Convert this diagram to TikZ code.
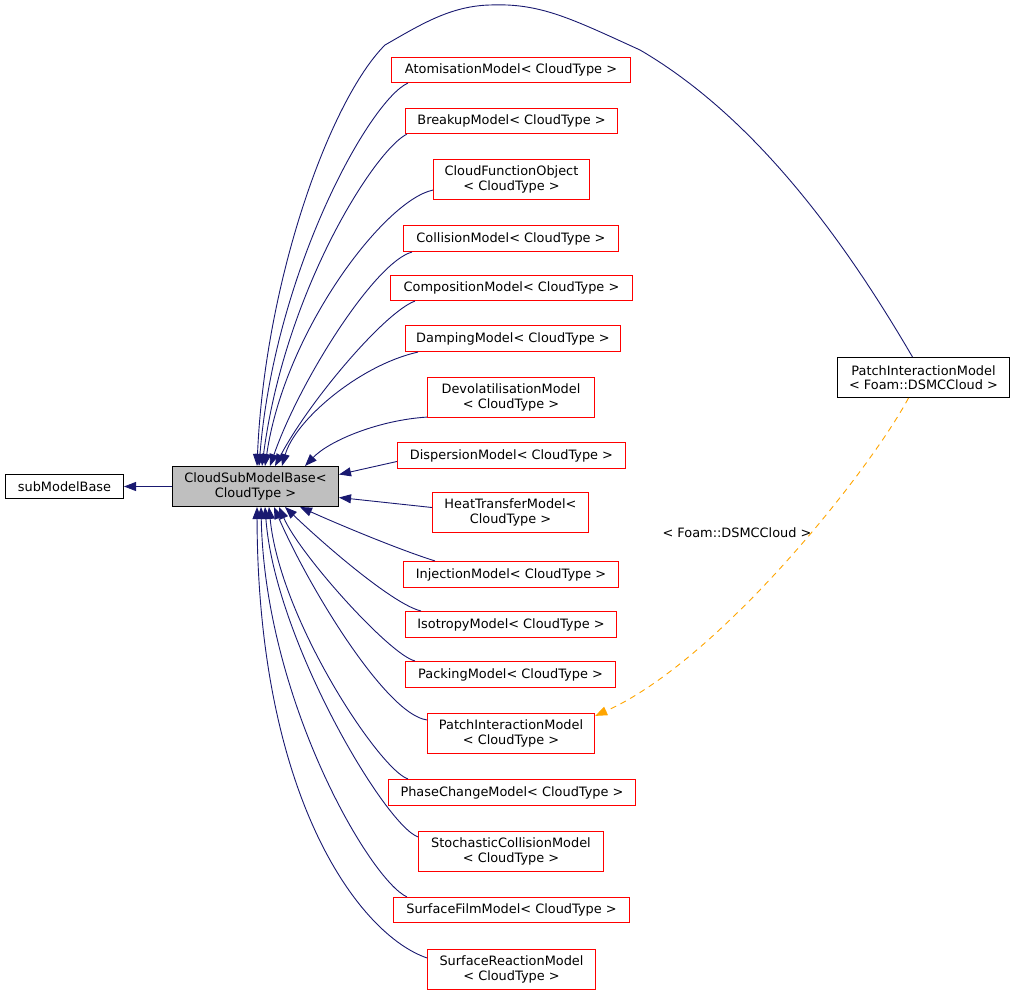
\documentclass[tikz,border=0pt]{standalone}
\usepackage{fontspec}
\setmainfont{DejaVu Sans}
\usetikzlibrary{arrows.meta}
\definecolor{edgeblue}{RGB}{25,25,112}
\definecolor{tmplorange}{RGB}{255,165,0}
\definecolor{basegray}{RGB}{191,191,191}
\definecolor{clsred}{RGB}{255,0,0}
\tikzset{
	box/.style={draw, line width=1pt, inner sep=0pt, align=center, font=\fontsize{12.9}{14.5}\selectfont},
	cls/.style={box, color=clsred, text=black, line width=1.2pt},
	basebox/.style={box, fill=basegray},
	edge/.style={draw=edgeblue, line width=0.9pt, -{Triangle[length=12pt,width=9pt]}},
	tmpledge/.style={draw=tmplorange, line width=0.9pt, dash pattern=on 6pt off 5pt, -{Triangle[length=12pt,width=9pt]}},
	lbl/.style={font=\fontsize{12.9}{14.5}\selectfont, inner sep=0pt}
}
\begin{document}
\begin{tikzpicture}[x=1pt, y=-1pt]
				\useasboundingbox (0,0) rectangle (1015,995);
				\node[box, minimum width=118pt, minimum height=24pt] (smb) at (64.5,486.5) {subModelBase};
				\node[basebox, minimum width=166pt, minimum height=40pt] (base) at (255.5,486.5) {CloudSubModelBase<\\CloudType >};
				\node[box, minimum width=172pt, minimum height=40pt] (dsmc) at (923.5,377.5) {PatchInteractionModel\\< Foam::DSMCCloud >};
				\node[cls, minimum width=239pt, minimum height=25pt] (atom) at (511,70) {AtomisationModel< CloudType >};
				\node[cls, minimum width=212pt, minimum height=25pt] (breakup) at (511.5,121) {BreakupModel< CloudType >};
				\node[cls, minimum width=156pt, minimum height=40pt] (cfo) at (511.5,179.5) {CloudFunctionObject\\< CloudType >};
				\node[cls, minimum width=215pt, minimum height=26pt] (collision) at (511,238.5) {CollisionModel< CloudType >};
				\node[cls, minimum width=242pt, minimum height=25pt] (composition) at (511.5,288) {CompositionModel< CloudType >};
				\node[cls, minimum width=215pt, minimum height=26pt] (damping) at (513,338.5) {DampingModel< CloudType >};
				\node[cls, minimum width=167pt, minimum height=40pt] (devol) at (511,397.5) {DevolatilisationModel\\< CloudType >};
				\node[cls, minimum width=228pt, minimum height=26pt] (dispersion) at (511.5,455.5) {DispersionModel< CloudType >};
				\node[cls, minimum width=156pt, minimum height=40pt] (heat) at (510.5,512.5) {HeatTransferModel<\\CloudType >};
				\node[cls, minimum width=215pt, minimum height=26pt] (injection) at (511,574.5) {InjectionModel< CloudType >};
				\node[cls, minimum width=211pt, minimum height=26pt] (isotropy) at (511,624.5) {IsotropyModel< CloudType >};
				\node[cls, minimum width=210pt, minimum height=26pt] (packing) at (510.5,674.5) {PackingModel< CloudType >};
				\node[cls, minimum width=167pt, minimum height=40pt] (patch) at (511,733.5) {PatchInteractionModel\\< CloudType >};
				\node[cls, minimum width=247pt, minimum height=26pt] (phase) at (512,792.5) {PhaseChangeModel< CloudType >};
				\node[cls, minimum width=185pt, minimum height=40pt] (stoch) at (511,851.5) {StochasticCollisionModel\\< CloudType >};
				\node[cls, minimum width=236pt, minimum height=25pt] (film) at (511.5,910) {SurfaceFilmModel< CloudType >};
				\node[cls, minimum width=168pt, minimum height=40pt] (reaction) at (511.5,969.5) {SurfaceReactionModel\\< CloudType >};
				\node[lbl] (tmpl) at (737,533) {< Foam::DSMCCloud >};
				% base class
				\draw[edge] (base) -- (smb);
				% children above the base
				\draw[edge] ([xshift=-11pt]dsmc.north) .. controls (850,250) and (760,120) .. (640,50)
					.. controls (570,18) and (540,3) .. (490,5)
					.. controls (450,6) and (420,25) .. (385,45)
					.. controls (330,100) and (265,280) .. ([xshift=1.5pt]base.north);
				\draw[edge] ([xshift=17pt]atom.south west) .. controls (370,100) and (275,270) .. ([xshift=3.5pt]base.north);
				\draw[edge] ([xshift=2pt]breakup.south west) .. controls (375,150) and (285,290) .. ([xshift=6.5pt]base.north);
				\draw[edge] ([yshift=10pt]cfo.south west) .. controls (385,200) and (285,330) .. ([xshift=9.5pt]base.north);
				\draw[edge] ([xshift=9pt]collision.south west) .. controls (375,262) and (300,380) .. ([xshift=14.5pt]base.north);
				\draw[edge] ([xshift=25pt]composition.south west) .. controls (385,312) and (310,400) .. ([xshift=19.5pt]base.north);
				\draw[edge] ([xshift=13pt]damping.south west) .. controls (360,365) and (295,420) .. ([xshift=26.5pt]base.north);
				\draw[edge] ([yshift=1pt]devol.south west) .. controls (380,420) and (330,440) .. ([xshift=49.5pt]base.north);
				\draw[edge] ([yshift=-6pt]dispersion.west) -- ([yshift=12pt]base.east);
				\draw[edge] ([yshift=5pt]heat.west) -- ([yshift=-11pt]base.east);
				% children below the base
				\draw[edge] ([xshift=32pt]injection.north west) .. controls (400,550) and (340,525) .. ([xshift=44.5pt]base.south);
				\draw[edge] ([xshift=16pt]isotropy.north west) .. controls (395,605) and (330,550) .. ([xshift=29.5pt]base.south);
				\draw[edge] ([xshift=10pt]packing.north west) .. controls (390,655) and (300,555) .. ([xshift=23.5pt]base.south);
				\draw[edge] ([yshift=-7pt]patch.north west) .. controls (387,715) and (310,590) .. ([xshift=18.5pt]base.south);
				\draw[edge] ([xshift=20pt]phase.north west) .. controls (380,770) and (280,620) .. ([xshift=13.5pt]base.south);
				\draw[edge] ([yshift=-6pt]stoch.north west) .. controls (385,825) and (275,640) .. ([xshift=9.5pt]base.south);
				\draw[edge] ([xshift=14pt]film.north west) .. controls (370,880) and (265,700) .. ([xshift=5.5pt]base.south);
				\draw[edge] ([yshift=-9pt]reaction.north west) .. controls (360,935) and (258,800) .. ([xshift=1.5pt]base.south);
				% template instance
				\draw[tmpledge] ([xshift=-15pt]dsmc.south) .. controls (870,470) and (720,660) .. ([yshift=-3pt]patch.north east);
\end{tikzpicture}
\end{document}
